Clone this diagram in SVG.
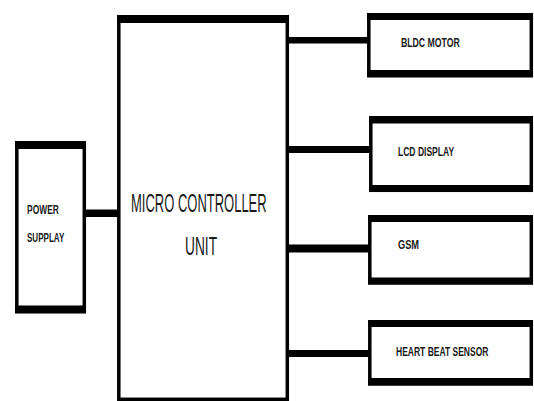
<svg xmlns="http://www.w3.org/2000/svg" width="534" height="401" viewBox="0 0 534 401">
<style>
.box{fill:#fff;stroke:#000;stroke-width:3.5}
.bar{fill:#000}
.wire{fill:#000}
.t{font-family:"Liberation Sans",Arial,sans-serif;fill:#1a1a1a}
.s{font-size:13px;font-weight:bold}
.b{font-size:25px}
</style>
<rect width="534" height="401" fill="#fff"/>
<g id="connectors">
<rect class="wire" x="86" y="209.5" width="32" height="7.5"/>
<rect class="wire" x="288" y="37" width="80" height="6.5"/>
<rect class="wire" x="288" y="146" width="82" height="7"/>
<rect class="wire" x="288" y="244.5" width="81" height="8"/>
<rect class="wire" x="288" y="350" width="81" height="7"/>
</g>
<g id="mcu">
<rect class="box" x="118.8" y="16.8" width="168.5" height="382.5"/>
<rect class="bar" x="117" y="15" width="172" height="8"/>
<text class="t b" transform="translate(131 212) scale(0.52 1)">MICRO CONTROLLER</text>
<text class="t b" transform="translate(185 255) scale(0.55 1)">UNIT</text>
</g>
<g id="power">
<rect class="box" x="16.8" y="142.8" width="67.5" height="168.5"/>
<rect class="bar" x="15" y="141" width="71" height="8"/>
<rect class="bar" x="15" y="305.5" width="71" height="8"/>
<text class="t s" transform="translate(27 214) scale(0.65 1)">POWER</text>
<text class="t s" transform="translate(27 242) scale(0.62 1)">SUPPLAY</text>
</g>
<g id="bldc">
<rect class="box" x="368.8" y="14.8" width="162.5" height="60.5"/>
<rect class="bar" x="367" y="13" width="166" height="7"/>
<rect class="bar" x="367" y="70" width="166" height="7.5"/>
<text class="t s" transform="translate(401 47) scale(0.67 1)">BLDC MOTOR</text>
</g>
<g id="lcd">
<rect class="box" x="370.8" y="117.8" width="160.5" height="72.5"/>
<rect class="bar" x="369" y="116" width="164" height="7.5"/>
<rect class="bar" x="369" y="185" width="164" height="7"/>
<text class="t s" transform="translate(398 156) scale(0.657 1)">LCD DISPLAY</text>
</g>
<g id="gsm">
<rect class="box" x="369.8" y="216.8" width="161.5" height="66"/>
<rect class="bar" x="368" y="215" width="165" height="7"/>
<rect class="bar" x="368" y="277.5" width="165" height="7"/>
<text class="t s" transform="translate(398 249) scale(0.71 1)">GSM</text>
</g>
<g id="heart">
<rect class="box" x="369.8" y="321.8" width="161.5" height="62"/>
<rect class="bar" x="368" y="320" width="165" height="7"/>
<rect class="bar" x="368" y="378" width="165" height="7.5"/>
<text class="t s" transform="translate(396 356) scale(0.655 1)">HEART BEAT SENSOR</text>
</g>
</svg>
